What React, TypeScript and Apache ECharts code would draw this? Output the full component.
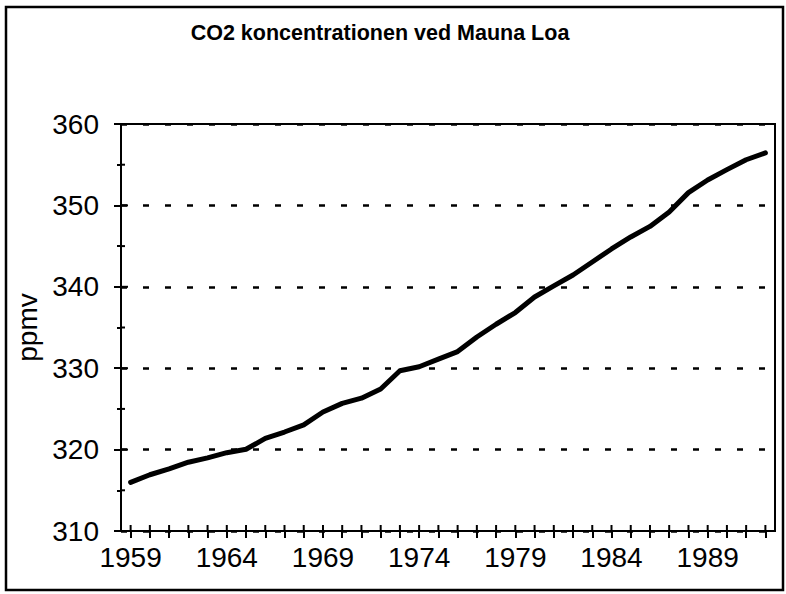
import React, { useEffect, useRef } from "react";
import * as echarts from "echarts";

const title = "CO2 koncentrationen ved Mauna Loa";
const yName = "ppmv";
const years = [
  "1959", "1960", "1961", "1962", "1963", "1964", "1965", "1966", "1967", "1968",
  "1969", "1970", "1971", "1972", "1973", "1974", "1975", "1976", "1977", "1978",
  "1979", "1980", "1981", "1982", "1983", "1984", "1985", "1986", "1987", "1988",
  "1989", "1990", "1991", "1992",
];
const co2 = [
  315.97, 316.91, 317.64, 318.45, 318.99, 319.62, 320.04, 321.38, 322.16, 323.04,
  324.62, 325.68, 326.32, 327.45, 329.68, 330.18, 331.11, 332.04, 333.83, 335.4,
  336.84, 338.75, 340.11, 341.45, 343.05, 344.65, 346.12, 347.42, 349.19, 351.57,
  353.12, 354.39, 355.61, 356.45,
];
const yMin = 310;
const yMax = 360;
const yStep = 10;
const yTickValues = [310, 315, 320, 325, 330, 335, 340, 345, 350, 355, 360];

const FONT = "'Liberation Sans', Arial, Helvetica, sans-serif";

export default function App() {
  const ref = useRef<HTMLDivElement>(null);
  useEffect(() => {
    if (!ref.current) return;
    const chart = echarts.init(ref.current, undefined, { renderer: "svg" });
    const axisLine = { show: true, lineStyle: { color: "#000", width: 2 } };
    chart.setOption({
      animation: false,
      backgroundColor: "#fff",
      title: {
        text: title,
        left: 375,
        textAlign: "center",
        top: 17,
        textStyle: { fontFamily: FONT, fontWeight: "bold", fontSize: 21.5, color: "#000" },
      },
      graphic: [
        {
          type: "rect",
          shape: { x: 6, y: 7, width: 777, height: 583 },
          style: { fill: "none", stroke: "#000", lineWidth: 2.5 },
          z: 100,
        },
      ],
      grid: {
        left: 121,
        top: 124,
        right: 11,
        bottom: 63,
        show: true,
        borderColor: "#000",
        borderWidth: 2,
        backgroundColor: "transparent",
      },
      xAxis: {
        type: "category",
        data: years,
        position: "bottom",
        boundaryGap: true,
        axisLine,
        axisTick: { show: true, alignWithLabel: true, interval: 0, length: 7, lineStyle: { color: "#000", width: 2 } },
        axisLabel: {
          interval: 4,
          margin: 12,
          fontFamily: FONT,
          fontSize: 28,
          color: "#000",
        },
        splitLine: { show: false },
      },
      yAxis: {
        type: "value",
        min: yMin,
        max: yMax,
        interval: yStep,
        position: "left",
        name: yName,
        nameLocation: "middle",
        nameRotate: 90,
        nameGap: 68,
        nameTextStyle: { fontFamily: FONT, fontSize: 28, color: "#000" },
        axisLine,
        axisTick: { show: true, length: 7, lineStyle: { color: "#000", width: 2 } },
        minorTick: { show: true, splitNumber: 2, length: 4, lineStyle: { color: "#000", width: 2 } },
        axisLabel: { margin: 22, fontFamily: FONT, fontSize: 28, color: "#000" },
        splitLine: {
          show: true,
          lineStyle: { color: "#000", width: 2.5, type: [6, 16] },
        },
      },
      series: [
        {
          type: "line",
          data: co2,
          symbol: "none",
          smooth: false,
          lineStyle: { color: "#000", width: 5, cap: "round", join: "round" },
          z: 10,
        },
        {
          type: "custom",
          silent: true,
          clip: false,
          data: years.map((_, i) => [i, yMin]),
          renderItem: (params: any, api: any) => {
            const p = api.coord([api.value(0), api.value(1)]);
            return {
              type: "line",
              shape: { x1: p[0], y1: p[1], x2: p[0], y2: p[1] - 6 },
              style: { stroke: "#000", lineWidth: 2 },
            };
          },
          z: 5,
        },
        {
          type: "custom",
          silent: true,
          clip: false,
          data: yTickValues.map((v) => [0, v]),
          renderItem: (params: any, api: any) => {
            const v = api.value(1);
            const p = api.coord([0, v]);
            const x0 = params.coordSys.x;
            const len = v % yStep === 0 ? 7 : 4;
            return {
              type: "line",
              shape: { x1: x0, y1: p[1], x2: x0 + len, y2: p[1] },
              style: { stroke: "#000", lineWidth: 2 },
            };
          },
          z: 5,
        },
      ],
    });
    return () => chart.dispose();
  }, []);
  return (
    <div
      ref={ref}
      style={{ position: "fixed", left: 0, top: 0, width: 786, height: 594, background: "#fff" }}
    />
  );
}
